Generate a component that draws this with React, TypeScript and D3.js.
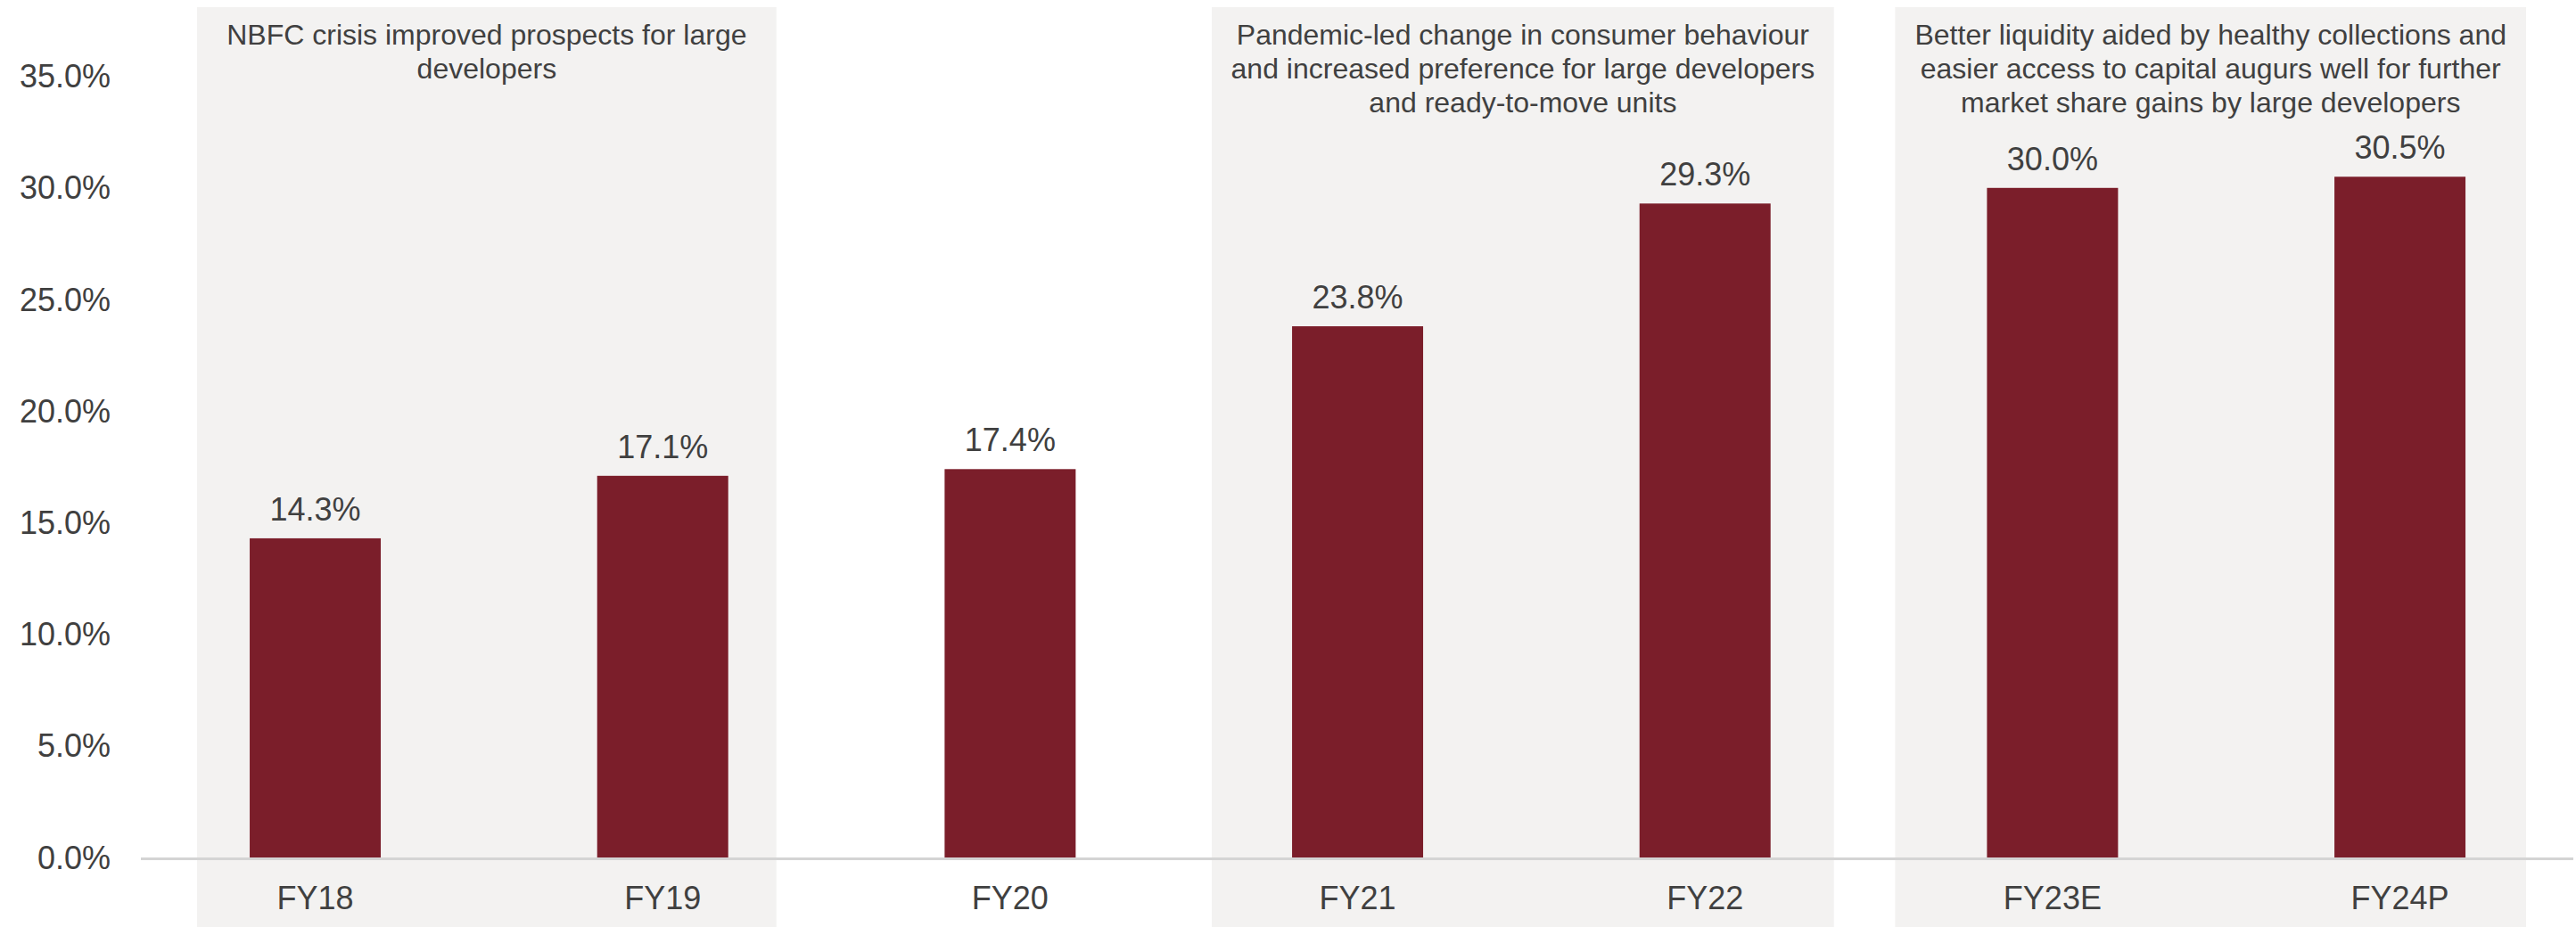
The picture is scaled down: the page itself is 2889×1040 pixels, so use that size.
import React from "react";
import * as d3 from "d3";

const categories = ["FY18", "FY19", "FY20", "FY21", "FY22", "FY23E", "FY24P"];
const shareValues = [14.3, 17.1, 17.4, 23.8, 29.3, 30.0, 30.5];
const yTicks = [0, 5, 10, 15, 20, 25, 30, 35];

const groupStart = ["FY18", "FY21", "FY23E"];
const groupEnd = ["FY19", "FY22", "FY24P"];
const groupNotes = [
  ["NBFC crisis improved prospects for large", "developers"],
  [
    "Pandemic-led change in consumer behaviour",
    "and increased preference for large developers",
    "and ready-to-move units",
  ],
  [
    "Better liquidity aided by healthy collections and",
    "easier access to capital augurs well for further",
    "market share gains by large developers",
  ],
];

const W = 2889;
const H = 1040;
const FONT = "'Liberation Sans', Arial, sans-serif";
const TEXT = "#404040";
const BAR = "#7b1e2a";
const SHADE = "#f3f2f1";

// box padding beyond bar edges (left, right)
const boxPad = [
  [59, 54],
  [90, 71],
  [103, 68],
];

export default function App() {
  const x = d3
    .scaleBand<string>()
    .domain(categories)
    .range([158.7, 2886.4])
    .paddingInner(0.6228)
    .paddingOuter(0.3114);
  const y = d3.scaleLinear().domain([0, 35]).range([962, 85.6]);
  const fmt = (v: number) => d3.format(".1f")(v) + "%";
  const bw = x.bandwidth();

  return (
    <svg
      width={W}
      height={H}
      style={{ position: "absolute", left: 0, top: 0, display: "block", background: "#fff" }}
      fontFamily={FONT}
    >
      {groupStart.map((s, i) => {
        const x0 = (x(s) as number) - boxPad[i][0];
        const x1 = (x(groupEnd[i]) as number) + bw + boxPad[i][1];
        const cx = (x0 + x1) / 2;
        return (
          <g key={"grp" + i}>
            <rect x={x0} y={8} width={x1 - x0} height={H - 8} fill={SHADE} />
            {groupNotes[i].map((line, j) => (
              <text
                key={j}
                x={cx}
                y={50 + j * 38}
                textAnchor="middle"
                fontSize={32}
                fill={TEXT}
              >
                {line}
              </text>
            ))}
          </g>
        );
      })}

      {yTicks.map((t) => (
        <text
          key={"yt" + t}
          x={124}
          y={y(t)}
          textAnchor="end"
          dominantBaseline="central"
          fontSize={36}
          fill={TEXT}
        >
          {fmt(t)}
        </text>
      ))}

      <line x1={158} x2={2886} y1={963.5} y2={963.5} stroke="#d4d4d4" strokeWidth={3} />

      {categories.map((c, i) => {
        const bx = x(c) as number;
        const v = shareValues[i];
        return (
          <g key={c}>
            <rect x={bx} y={y(v)} width={bw} height={y(0) - y(v)} fill={BAR} />
            <text
              x={bx + bw / 2}
              y={y(v) - 20}
              textAnchor="middle"
              fontSize={36}
              fill={TEXT}
            >
              {fmt(v)}
            </text>
            <text x={bx + bw / 2} y={1020} textAnchor="middle" fontSize={36} fill={TEXT}>
              {c}
            </text>
          </g>
        );
      })}
    </svg>
  );
}
